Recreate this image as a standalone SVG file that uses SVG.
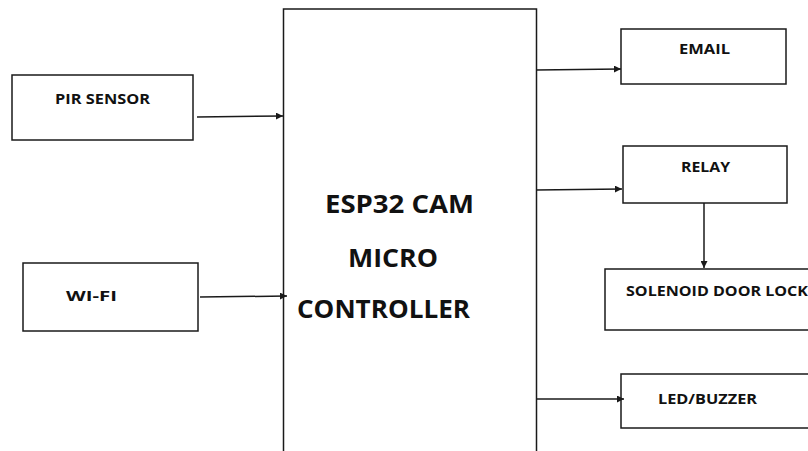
<svg xmlns="http://www.w3.org/2000/svg" width="808" height="451" viewBox="0 0 808 451">
<defs>
<style>
.box{fill:#fff;stroke:#1a1a1a;stroke-width:1.5}
.ln{stroke:#1a1a1a;stroke-width:1.5;fill:none}
.t{font-family:"Open Sans","Liberation Sans",sans-serif;font-weight:bold;fill:#111}
.s{font-size:14.5px}
.b{font-size:25px}
</style>
<marker id="ah" viewBox="0 0 10 10" refX="10" refY="5" markerWidth="7" markerHeight="7" markerUnits="userSpaceOnUse" orient="auto">
<path d="M0,0 L10,5 L0,10 z" fill="#1a1a1a"/>
</marker>
</defs>
<rect width="808" height="451" fill="#fff"/>
<g id="esp32">
<path class="box" d="M283.5,455 V9 H536.5 V455"/>
<text class="t b" x="325" y="213" textLength="149" lengthAdjust="spacingAndGlyphs">ESP32 CAM</text>
<text class="t b" x="348" y="267" textLength="90" lengthAdjust="spacingAndGlyphs">MICRO</text>
<text class="t b" x="297" y="318" textLength="173" lengthAdjust="spacingAndGlyphs">CONTROLLER</text>
</g>
<g id="pir">
<rect class="box" x="12" y="75" width="181" height="65"/>
<text class="t s" x="55" y="104" textLength="95" lengthAdjust="spacingAndGlyphs">PIR SENSOR</text>
</g>
<g id="wifi">
<rect class="box" x="23" y="263" width="175" height="68"/>
<text class="t s" x="66" y="301" textLength="51" lengthAdjust="spacingAndGlyphs">WI-FI</text>
</g>
<g id="email">
<rect class="box" x="621" y="29" width="165" height="55"/>
<text class="t s" x="679" y="54" textLength="51" lengthAdjust="spacingAndGlyphs">EMAIL</text>
</g>
<g id="relay">
<rect class="box" x="623" y="146" width="164" height="57"/>
<text class="t s" x="681" y="172" textLength="49" lengthAdjust="spacingAndGlyphs">RELAY</text>
</g>
<g id="solenoid">
<rect class="box" x="605" y="269" width="220" height="61"/>
<text class="t s" x="626" y="296" textLength="182" lengthAdjust="spacingAndGlyphs">SOLENOID DOOR LOCK</text>
</g>
<g id="led">
<rect class="box" x="621" y="374" width="200" height="54"/>
<text class="t s" x="658" y="404" textLength="99" lengthAdjust="spacingAndGlyphs">LED/BUZZER</text>
</g>
<g id="connectors">
<line class="ln" x1="197" y1="117" x2="283" y2="116" marker-end="url(#ah)"/>
<line class="ln" x1="200" y1="297" x2="287" y2="296" marker-end="url(#ah)"/>
<line class="ln" x1="536" y1="70" x2="621" y2="69" marker-end="url(#ah)"/>
<line class="ln" x1="536" y1="190" x2="622" y2="189" marker-end="url(#ah)"/>
<line class="ln" x1="704" y1="203" x2="704" y2="268" marker-end="url(#ah)"/>
<line class="ln" x1="536" y1="399" x2="624" y2="399" marker-end="url(#ah)"/>
</g>
</svg>
